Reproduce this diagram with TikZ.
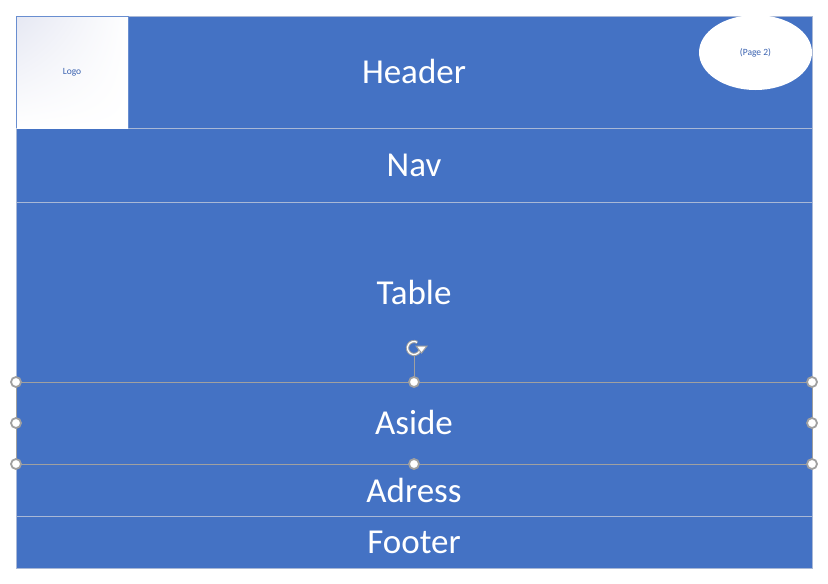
\documentclass[tikz,border=0pt]{standalone}
\usepackage{fontspec}
\setmainfont{Carlito}
\usetikzlibrary{shadings,shapes.geometric}
\definecolor{blu}{HTML}{4472C4}
\definecolor{sep}{HTML}{A9B8D6}
\definecolor{hnd}{HTML}{A0A0A0}
\definecolor{logotxt}{HTML}{3A62B0}
\definecolor{lav}{HTML}{E6E8F3}
\begin{document}
\begin{tikzpicture}[x=1pt,y=-1pt,
  band/.style={fill=blu,draw=sep,line width=0.8pt},
  lbl/.style={text=white,font=\fontsize{35}{40}\selectfont},
  small/.style={text=logotxt,font=\fontsize{9.5}{11}\selectfont},
  handle/.style={circle,draw=hnd,fill=white,line width=1.8pt,inner sep=0pt,minimum size=10pt},
  selline/.style={draw=hnd,line width=0.9pt}]
\useasboundingbox (0,0) rectangle (828,584);
% bands
\draw[band] (16,16) rectangle (812,128);
\draw[band] (16,128) rectangle (812,202);
\draw[band] (16,202) rectangle (812,382);
\draw[band] (16,382) rectangle (812,464);
\draw[band] (16,464) rectangle (812,516);
\draw[band] (16,516) rectangle (812,568);
% logo
\shade[upper left=lav,lower right=white,upper right=white!97!lav,lower left=white] (16.5,16.5) rectangle (128,128);
\draw[blu!80,line width=0.8pt] (16,16) -- (128,16) -- (128,128);
\draw[blu!80,line width=0.8pt] (16,16) -- (16,128);
\node[small] (logo) at (72,72) {Logo};
% ellipse
\node[ellipse,fill=white,minimum width=113pt,minimum height=75pt,inner sep=0pt] (page2) at (755.5,52.5) {};
\node[small] at (page2) {(Page 2)};
% labels
\node[lbl] (header) at (414,71) {Header};
\node[lbl] (nav) at (414,165) {Nav};
\node[lbl] (table) at (414,292) {Table};
\node[lbl] (aside) at (414,422) {Aside};
\node[lbl] (adress) at (414,490) {Adress};
\node[lbl] (footer) at (414,542) {Footer};
% selection
\draw[selline] (16,382) rectangle (812,464);
\coordinate (rot) at (414,348);
\draw[selline] (414,356) -- (414,382);
\draw[hnd,line width=3.2pt] ([shift={(60:6.5pt)}]rot) arc[start angle=60,end angle=360,radius=6.5pt];
\draw[white,line width=1.2pt] ([shift={(60:6.5pt)}]rot) arc[start angle=60,end angle=360,radius=6.5pt];
\fill[white,draw=hnd,line width=1pt] (416,346) -- (427,346) -- (421.5,353) -- cycle;
\foreach \p in {(16,382),(414,382),(812,382),(16,423),(812,423),(16,464),(414,464),(812,464)}
  \node[handle] at \p {};
\end{tikzpicture}
\end{document}
